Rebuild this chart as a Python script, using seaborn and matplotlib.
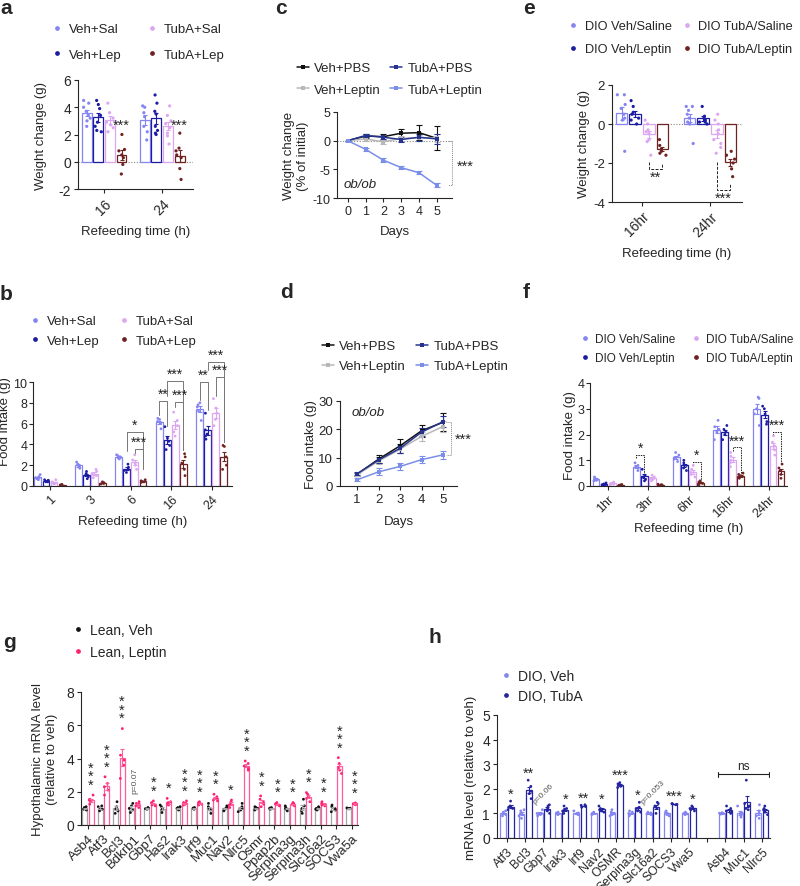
import numpy as np
import pandas as pd
import matplotlib.pyplot as plt
import seaborn as sns
from matplotlib.lines import Line2D

np.random.seed(7)

# ---------------- data ----------------
# a: weight change (g) after refeeding, individual mice
a_times = ["16", "24"]
grp4 = ["Veh+Sal", "Veh+Lep", "TubA+Sal", "TubA+Lep"]
a_16 = [[4.5, 4.3, 3.7, 3.4, 3.2, 3.0, 2.6, 4.0],
        [4.5, 4.2, 3.9, 3.4, 2.9, 2.6, 2.3, 2.2],
        [4.3, 3.6, 3.2, 2.9, 2.7, 2.5, 2.2],
        [2.0, 0.9, 0.8, 0.5, 0.3, -0.2, -0.9]]
a_24 = [[4.1, 4.0, 3.6, 3.3, 2.6, 2.2, 1.6],
        [4.9, 4.3, 3.7, 3.5, 2.6, 2.3, 2.1, 2.0],
        [4.1, 3.4, 3.0, 2.8, 2.5, 2.1, 1.9, 1.3],
        [2.1, 1.0, 0.8, 0.5, 0.3, -0.5, -1.3]]

# b: food intake (g)
b_times = ["1", "3", "6", "16", "24"]
b_1 = [[1.1, 0.9, 0.8, 0.7, 0.6], [0.6, 0.55, 0.5, 0.4, 0.4], [0.6, 0.4, 0.3, 0.2, 0.25], [0.15, 0.1, 0.1, 0.05, 0.08]]
b_3 = [[2.3, 2.1, 2.0, 1.8, 1.7], [1.4, 1.2, 1.0, 0.9, 0.7], [1.6, 1.4, 1.2, 1.0, 0.8], [0.4, 0.3, 0.3, 0.2, 0.25]]
b_6 = [[3.0, 2.9, 2.8, 2.7, 2.6], [2.1, 1.8, 1.6, 1.5, 1.3], [3.0, 2.5, 2.2, 2.0, 1.6], [0.6, 0.5, 0.45, 0.4, 0.35]]
b_16 = [[6.5, 6.4, 6.2, 6.0, 5.5], [5.7, 4.6, 4.3, 3.9, 3.5], [7.1, 6.3, 5.8, 5.2, 4.8], [3.1, 2.8, 2.2, 1.6, 1.0]]
b_24 = [[8.0, 7.8, 7.6, 7.2, 6.3], [7.0, 5.4, 5.0, 4.8, 4.5], [8.4, 7.5, 7.0, 6.4, 5.8], [3.9, 3.8, 2.8, 2.0, 1.6]]

# c: ob/ob weight change (% of initial), mean and sem
c_days = [0, 1, 2, 3, 4, 5]
grp_ob = ["Veh+PBS", "Veh+Leptin", "TubA+PBS", "TubA+Leptin"]
c_mean = [[0, 0.8, 0.7, 1.3, 1.4, 0.4],
          [0, 0.3, -0.2, 0.4, 0.5, 0.5],
          [0, 0.9, 0.6, 0.2, 0.6, 0.3],
          [0, -1.5, -3.4, -4.7, -5.6, -7.8]]
c_sem = [[0, 0.3, 0.5, 0.8, 1.3, 2.1],
         [0, 0.3, 0.4, 0.4, 0.5, 0.7],
         [0, 0.2, 0.3, 0.4, 0.6, 0.8],
         [0, 0.3, 0.3, 0.3, 0.3, 0.35]]

# d: ob/ob cumulative food intake (g)
d_days = [1, 2, 3, 4, 5]
d_mean = [[4.2, 9.5, 14.2, 19.5, 22.5],
          [4.0, 8.8, 13.0, 17.5, 21.0],
          [4.3, 9.2, 13.3, 19.0, 22.7],
          [2.2, 5.0, 6.9, 9.3, 11.0]]
d_sem = [[0.5, 1.5, 2.5, 2.2, 3.2],
         [0.5, 1.0, 1.5, 1.5, 2.0],
         [0.5, 1.2, 1.5, 1.5, 2.0],
         [0.5, 1.2, 1.2, 1.2, 1.3]]

# e: DIO weight change (g)
e_times = ["16hr", "24hr"]
grp_dio = ["DIO Veh/Saline", "DIO Veh/Leptin", "DIO TubA/Saline", "DIO TubA/Leptin"]
e_16 = [[1.5, 1.5, 1.0, 0.8, 0.5, 0.3, 0.2, -1.4],
        [1.2, 0.9, 0.6, 0.5, 0.3, 0.2, 0.0],
        [0.2, 0.0, -0.3, -0.4, -0.5, -0.8, -0.9, -1.6],
        [-0.8, -1.1, -1.3, -1.4, -1.5, -1.6]]
e_24 = [[0.9, 0.9, 0.7, 0.5, 0.3, 0.1, 0.0, -1.0],
        [0.9, 0.4, 0.3, 0.2, 0.1, 0.1, 0.0],
        [0.5, 0.2, 0.0, -0.3, -0.5, -0.8, -1.0, -1.2, -1.5],
        [-1.4, -1.6, -1.8, -2.0, -2.3, -2.7]]

# f: DIO food intake (g)
f_times = ["1hr", "3hr", "6hr", "16hr", "24hr"]
f_1 = [[0.35, 0.3, 0.27, 0.22, 0.2], [0.12, 0.08, 0.06, 0.05, 0.03], [0.15, 0.12, 0.1, 0.07, 0.05], [0.06, 0.04, 0.03, 0.02, 0.01]]
f_3 = [[0.9, 0.8, 0.75, 0.7, 0.6], [0.65, 0.4, 0.35, 0.25, 0.2], [0.42, 0.35, 0.3, 0.25, 0.2], [0.07, 0.05, 0.04, 0.03, 0.02]]
f_6 = [[1.3, 1.2, 1.1, 1.05, 0.95], [1.0, 0.9, 0.8, 0.7, 0.6], [0.8, 0.65, 0.55, 0.45, 0.35], [0.2, 0.15, 0.12, 0.1, 0.05]]
f_16 = [[2.55, 2.3, 2.2, 2.1, 1.8], [2.35, 2.2, 2.1, 2.0, 1.8], [1.3, 1.15, 1.0, 0.9, 0.75], [0.5, 0.45, 0.4, 0.35, 0.3]]
f_24 = [[3.45, 3.4, 3.0, 2.8, 2.35], [3.1, 3.0, 2.8, 2.5, 2.4], [1.95, 1.7, 1.55, 1.4, 1.2], [0.85, 0.7, 0.6, 0.45, 0.3]]

# g: hypothalamic mRNA (lean)
g_genes = ["Asb4", "Atf3", "Bcl3", "Bdkrb1", "Gbp7", "Has2", "Irak3", "Irf9", "Muc1", "Nav2",
           "Nlrc5", "Osmr", "Ppap2b", "Serpina3g", "Serpina3h", "Slc16a2", "SOCS3", "Vwa5a"]
grp_g = ["Lean, Veh", "Lean, Leptin"]
g_veh = [[0.9, 0.95, 1.0, 1.05, 1.1], [0.85, 0.95, 1.0, 1.1, 1.15], [0.7, 0.85, 0.95, 1.1, 1.4],
         [0.75, 0.9, 1.0, 1.15, 1.3], [0.95, 0.98, 1.0, 1.02, 1.05], [0.75, 0.9, 1.0, 1.1, 1.2],
         [0.9, 0.95, 1.0, 1.05, 1.1], [0.95, 0.98, 1.0, 1.02, 1.05], [0.7, 0.9, 1.0, 1.1, 1.3],
         [0.85, 0.95, 1.0, 1.05, 1.15], [0.8, 0.9, 1.0, 1.1, 1.3], [0.9, 0.95, 1.0, 1.05, 1.1],
         [0.95, 0.98, 1.0, 1.02, 1.05], [0.85, 0.95, 1.0, 1.05, 1.15], [0.7, 0.85, 1.0, 1.15, 1.55],
         [0.9, 0.95, 1.0, 1.05, 1.1], [0.8, 0.9, 1.0, 1.1, 1.2], [0.97, 0.99, 1.0, 1.01, 1.03]]
g_lep = [[1.25, 1.4, 1.5, 1.55, 1.8], [1.8, 2.1, 2.3, 2.5, 2.9], [2.8, 3.6, 3.9, 4.2, 5.8],
         [1.05, 1.15, 1.25, 1.3, 1.4], [1.15, 1.2, 1.3, 1.35, 1.45], [1.2, 1.25, 1.35, 1.4, 1.6],
         [1.2, 1.25, 1.3, 1.35, 1.45], [1.2, 1.25, 1.3, 1.35, 1.4], [1.45, 1.5, 1.6, 1.7, 1.85],
         [1.05, 1.2, 1.3, 1.4, 1.5], [3.3, 3.4, 3.55, 3.7, 3.85], [1.1, 1.25, 1.4, 1.55, 1.75],
         [1.15, 1.2, 1.25, 1.3, 1.35], [1.15, 1.2, 1.25, 1.3, 1.35], [1.4, 1.6, 1.7, 1.85, 1.95],
         [1.15, 1.2, 1.25, 1.3, 1.4], [3.1, 3.3, 3.45, 3.7, 4.05], [1.22, 1.25, 1.28, 1.3, 1.33]]
g_sig = ["***", "***", "***", "p=0.07", "**", "*", "***", "***", "**", "*",
         "***", "**", "**", "**", "**", "**", "***", "***"]

# h: mRNA (DIO), "" is the spacer between the two gene sets
h_genes = ["Atf3", "Bcl3", "Gbp7", "Irak3", "Irf9", "Nav2", "OSMR", "Serpina3g", "Slc16a2",
           "SOCS3", "Vwa5", "", "Asb4", "Muc1", "Nlrc5"]
grp_h = ["DIO, Veh", "DIO, TubA"]
h_veh = [[0.9, 0.95, 1.0, 1.05, 1.1], [0.8, 0.9, 1.0, 1.1, 1.15], [0.9, 0.95, 1.0, 1.0, 1.15],
         [0.95, 0.98, 1.0, 1.02, 1.05], [0.95, 0.98, 1.0, 1.02, 1.1], [0.95, 0.98, 1.0, 1.02, 1.05],
         [0.9, 0.95, 1.0, 1.05, 1.15], [0.9, 0.95, 1.0, 1.05, 1.1], [0.95, 0.98, 1.0, 1.02, 1.05],
         [0.9, 0.95, 1.0, 1.05, 1.1], [0.95, 0.98, 1.0, 1.02, 1.05], [],
         [0.97, 0.99, 1.0, 1.01, 1.03], [0.85, 0.95, 1.0, 1.05, 1.3], [0.8, 0.9, 1.0, 1.1, 1.35]]
h_tub = [[1.15, 1.2, 1.25, 1.3, 1.5], [1.6, 1.8, 1.9, 2.1, 2.35], [1.0, 1.1, 1.2, 1.3, 1.35],
         [1.0, 1.1, 1.15, 1.2, 1.3], [1.25, 1.28, 1.3, 1.33, 1.35], [1.05, 1.1, 1.15, 1.2, 1.3],
         [2.05, 2.1, 2.15, 2.2, 2.25], [1.05, 1.1, 1.2, 1.25, 1.45], [1.0, 1.2, 1.3, 1.4, 1.45],
         [1.35, 1.37, 1.38, 1.39, 1.4], [1.1, 1.15, 1.2, 1.25, 1.3], [],
         [1.0, 1.05, 1.1, 1.2, 1.3], [1.15, 1.2, 1.3, 1.4, 2.35], [0.95, 1.05, 1.15, 1.2, 1.3]]
h_sig = ["*", "**", "p=0.06", "*", "**", "*", "***", "*", "p=0.053", "***", "*", "", "", "", ""]

# colours
pal4 = ["#8585f2", "#1c1ca3", "#dda6f0", "#6e2222"]
pal_ob = ["#111111", "#b8b8b8", "#26348f", "#7b8ee8"]
pal_g_bar = ["#a5a5a5", "#ff5c9d"]
pal_g_dot = ["#111111", "#ff1f70"]
pal_h = ["#8585f2", "#2525a0"]

# ---------------- style ----------------
sns.set_theme(style="ticks")
plt.rcParams["font.family"] = ["Liberation Sans", "DejaVu Sans"]
plt.rcParams.update({"font.size": 9, "axes.linewidth": 0.8, "xtick.major.width": 0.8,
                     "ytick.major.width": 0.8, "xtick.major.size": 3, "ytick.major.size": 3,
                     "xtick.major.pad": 2, "ytick.major.pad": 2,
                     "xtick.labelsize": 10, "ytick.labelsize": 10, "axes.labelsize": 9.5,
                     "axes.unicode_minus": False})

W, H = 800, 887
fig = plt.figure(figsize=(8, 8.87), dpi=100)


def add_ax(x0, x1, y_top, y_bot):
    return fig.add_axes([x0 / W, 1 - y_bot / H, (x1 - x0) / W, (y_bot - y_top) / H])


def long_df(times, groups, blocks):
    rows = []
    for t, block in zip(times, blocks):
        for g, vals in zip(groups, block):
            for v in vals:
                rows.append((t, g, v))
    return pd.DataFrame(rows, columns=["t", "g", "v"])


def xpos(i, j, n, width=0.8):
    return i + (j - (n - 1) / 2) * width / n


def bar_panel(ax, df, order, hue_order, pal, dot_pal, jit=0.25, dsize=2.3, gap=0.15):
    sns.barplot(data=df, x="t", y="v", hue="g", order=order, hue_order=hue_order,
                palette=pal, fill=False, errorbar=None, gap=gap, linewidth=0.9,
                legend=False, ax=ax)
    sns.stripplot(data=df, x="t", y="v", hue="g", order=order, hue_order=hue_order,
                  palette=dot_pal, dodge=True, jitter=jit, size=dsize, linewidth=0,
                  legend=False, ax=ax, zorder=3)
    st = df.groupby(["t", "g"])["v"].agg(["mean", "sem"])
    n = len(hue_order)
    for i, t in enumerate(order):
        for j, g in enumerate(hue_order):
            if (t, g) not in st.index:
                continue
            m, s = st.loc[(t, g)]
            ax.errorbar(xpos(i, j, n), m, yerr=s, color=pal[j], capsize=1.6,
                        elinewidth=0.8, capthick=0.8, zorder=4)


def line_panel(ax, days, means, sems, marker_size=3.5):
    rows = []
    for g, ms in zip(grp_ob, means):
        for d, m in zip(days, ms):
            rows.append((d, g, m))
    df = pd.DataFrame(rows, columns=["day", "g", "v"])
    sns.lineplot(data=df, x="day", y="v", hue="g", hue_order=grp_ob, palette=pal_ob,
                 marker="s", markersize=marker_size, markeredgewidth=0, linewidth=1.1,
                 errorbar=None, legend=False, ax=ax)
    for g, c, ms, ss in zip(grp_ob, pal_ob, means, sems):
        ax.errorbar(days, ms, yerr=ss, fmt="none", ecolor=c, elinewidth=0.8,
                    capsize=2, capthick=0.8, zorder=1)


def dot_legend(x, y, labels, colors, ncol, cs, fs=9.5, ls=0.75):
    hs = [Line2D([], [], ls="", marker="o", markersize=2.4, color=c) for c in colors]
    fig.legend(hs, labels, ncol=ncol, loc="upper left", bbox_to_anchor=(x / W, 1 - y / H),
               frameon=False, fontsize=fs, handlelength=0.8, handletextpad=0.5,
               columnspacing=cs, labelspacing=ls, borderpad=0, borderaxespad=0)


def line_legend(x, y, cs, ls=0.6):
    hs = [Line2D([], [], color=c, marker="s", markersize=3.5, markeredgewidth=0, lw=1.1)
          for c in pal_ob]
    fig.legend(hs, grp_ob, ncol=2, loc="upper left", bbox_to_anchor=(x / W, 1 - y / H),
               frameon=False, fontsize=9.5, handlelength=0.9, handletextpad=0.4,
               columnspacing=cs, labelspacing=ls, borderpad=0, borderaxespad=0)


def rot_labels(ax, labels, size=10):
    ax.set_xticks(range(len(labels)))
    ax.set_xticklabels(labels, rotation=45, ha="right", rotation_mode="anchor", fontsize=size)


def bracket(ax, x1, x2, y, y1, y2, txt, color="#777777", ls="-", fs=10, lw=0.7):
    ax.plot([x1, x1, x2, x2], [y1, y, y, y2], color=color, ls=ls, lw=lw, clip_on=False)
    ax.text((x1 + x2) / 2, y, txt, ha="center", va="bottom", fontsize=fs, color="#222222")


def zero_line(ax):
    ax.axhline(0, color="#888888", ls=(0, (1, 1.5)), lw=0.8, zorder=0)


def letter(x, y, s):
    fig.text(x / W, 1 - y / H, s, fontsize=15, fontweight="bold", va="center", ha="left")


# ---------------- panel a ----------------
ax = add_ax(78, 193, 81, 190)
bar_panel(ax, long_df(a_times, grp4, [a_16, a_24]), a_times, grp4, pal4, pal4)
zero_line(ax)
ax.set_ylim(-2, 6)
ax.set_xlim(-0.45, 1.53)
ax.set_yticks([-2, 0, 2, 4, 6])
rot_labels(ax, a_times)
ax.set_ylabel("Weight change (g)", labelpad=8)
ax.set_xlabel("Refeeding time (h)", labelpad=6)
for i in range(2):
    ax.text(xpos(i, 3, 4), 2.2, "***", ha="center", va="bottom", fontsize=10.5)
sns.despine(ax=ax)
dot_legend(52, 24, grp4, pal4, 2, 1.9, ls=1.0)
letter(0, 9, "a")

# ---------------- panel b ----------------
ax = add_ax(33, 232, 357, 487)
bar_panel(ax, long_df(b_times, grp4, [b_1, b_3, b_6, b_16, b_24]), b_times, grp4, pal4, pal4,
          dsize=2.0)
ax.set_ylim(0, 12.5)
ax.set_xlim(-0.42, 4.5)
ax.set_yticks(range(0, 11, 2))
ax.spines["left"].set_bounds(0, 10)
ax.tick_params(axis="y", pad=1, labelsize=9)
rot_labels(ax, b_times, size=9)
ax.set_ylabel("Food intake (g)", labelpad=2)
ax.set_xlabel("Refeeding time (h)", labelpad=3)
bracket(ax, xpos(2, 1, 4), xpos(2, 3, 4), 5.2, 3.4, 1.6, "*")
bracket(ax, xpos(2, 2, 4), xpos(2, 3, 4), 3.6, 3.1, 1.6, "***")
bracket(ax, xpos(3, 0, 4), xpos(3, 1, 4), 8.2, 6.8, 5.8, "**")
bracket(ax, xpos(3, 1, 4), xpos(3, 3, 4), 10.1, 8.7, 3.5, "***")
bracket(ax, xpos(3, 2, 4), xpos(3, 3, 4), 8.1, 7.6, 3.5, "***")
bracket(ax, xpos(4, 0, 4), xpos(4, 1, 4), 10.0, 8.3, 7.3, "**")
bracket(ax, xpos(4, 1, 4), xpos(4, 3, 4), 11.9, 11.2, 4.2, "***")
bracket(ax, xpos(4, 2, 4), xpos(4, 3, 4), 10.5, 8.7, 4.2, "***")
sns.despine(ax=ax)
dot_legend(30, 316, grp4, pal4, 2, 1.4, ls=0.55)
letter(0, 295, "b")

# ---------------- panel c ----------------
ax = add_ax(337, 452, 113, 199)
line_panel(ax, c_days, c_mean, c_sem)
ax.plot([-0.6, 5.85], [0, 0], color="#888888", ls=(0, (1, 1.5)), lw=0.8, zorder=0, clip_on=False)
ax.set_xlim(-0.6, 5.85)
ax.set_ylim(-10, 5)
ax.set_yticks([-10, -5, 0, 5])
ax.set_xticks(c_days)
ax.tick_params(labelsize=9)
ax.set_xlabel("Days", labelpad=6)
ax.set_ylabel("Weight change\n(% of initial)", labelpad=2)
ax.text(-0.25, -7.6, "ob/ob", fontstyle="italic", fontsize=9.5, va="center")
ax.plot([5.65, 5.85, 5.85, 5.65], [0, 0, -7.8, -7.8], color="#888888", lw=0.7,
        ls=(0, (1, 1)), clip_on=False)
ax.text(6.1, -4.4, "***", fontsize=10.5, va="center", ha="left")
sns.despine(ax=ax)
line_legend(297, 63, 0.7, ls=0.7)
letter(275, 9, "c")

# ---------------- panel d ----------------
ax = add_ax(340, 457, 402, 487)
line_panel(ax, d_days, d_mean, d_sem)
ax.set_xlim(0.2, 5.65)
ax.set_ylim(0, 30)
ax.set_yticks([0, 10, 20, 30])
ax.set_xticks(d_days)
ax.tick_params(labelsize=9.5)
ax.set_xlabel("Days", labelpad=7)
ax.set_ylabel("Food intake (g)", labelpad=1)
ax.text(0.75, 26, "ob/ob", fontstyle="italic", fontsize=9.5, va="center")
ax.plot([5.15, 5.35, 5.35, 5.15], [22.7, 22.7, 11.0, 11.0], color="#888888", lw=0.7,
        ls=(0, (1, 1)), clip_on=False)
ax.text(5.55, 16.6, "***", fontsize=10.5, va="center", ha="left")
sns.despine(ax=ax)
line_legend(322, 341, 0.8)
letter(280, 293, "d")

# ---------------- panel e ----------------
ax = add_ax(612, 742, 86, 203)
bar_panel(ax, long_df(e_times, grp_dio, [e_16, e_24]), e_times, grp_dio, pal4, pal4)
zero_line(ax)
ax.set_ylim(-4, 2)
ax.set_xlim(-0.44, 1.47)
ax.set_yticks([-4, -2, 0, 2])
ax.tick_params(axis="y", labelsize=9.5)
rot_labels(ax, e_times)
ax.set_ylabel("Weight change (g)", labelpad=2)
ax.set_xlabel("Refeeding time (h)", labelpad=6)
for i, (ytop, y2, s) in enumerate([(-2.3, -2.0, "**"), (-3.4, -3.1, "***")]):
    x1, x2 = xpos(i, 2, 4), xpos(i, 3, 4)
    ax.plot([x1, x1, x2, x2], [-1.95, ytop, ytop, y2], color="#222222", lw=0.7,
            ls=(0, (3, 1.5)))
    ax.text((x1 + x2) / 2, ytop - 0.05, s, ha="center", va="top", fontsize=10.5)
sns.despine(ax=ax)
dot_legend(568, 21, grp_dio, pal4, 2, 0.8, fs=9.2, ls=0.9)
letter(523, 9, "e")

# ---------------- panel f ----------------
ax = add_ax(590, 787, 384, 487)
bar_panel(ax, long_df(f_times, grp_dio, [f_1, f_3, f_6, f_16, f_24]), f_times, grp_dio,
          pal4, pal4, dsize=2.0)
ax.set_ylim(0, 4)
ax.set_xlim(-0.45, 4.45)
ax.set_yticks([0, 1, 2, 3, 4])
ax.tick_params(axis="y", labelsize=9, pad=1)
rot_labels(ax, f_times, size=9)
ax.set_ylabel("Food intake (g)", labelpad=1)
ax.set_xlabel("Refeeding time (h)", labelpad=2)
for i, j1, j2, y, y1, y2, s in [(1, 0, 1, 1.2, 1.07, 0.45, "*"), (2, 2, 3, 0.93, 0.82, 0.2, "*"),
                                 (3, 2, 3, 1.5, 1.37, 0.5, "***"), (4, 2, 3, 2.1, 1.97, 0.85, "***")]:
    bracket(ax, xpos(i, j1, 4), xpos(i, j2, 4), y, y1, y2, s, color="#222222",
            ls=(0, (1.5, 1)), fs=10)
sns.despine(ax=ax)
dot_legend(580, 334, grp_dio, pal4, 2, 1.3, fs=8.5, ls=0.6)
letter(523, 293, "f")

# ---------------- panel g ----------------
ax = add_ax(81, 358, 693, 826)
g_df = long_df(g_genes, grp_g, [[v, l] for v, l in zip(g_veh, g_lep)])
bar_panel(ax, g_df, g_genes, grp_g, pal_g_bar, pal_g_dot, jit=0.3, dsize=2.0, gap=0.2)
ax.set_ylim(0, 8)
ax.set_xlim(-0.45, 17.4)
ax.set_yticks([0, 2, 4, 6, 8])
rot_labels(ax, g_genes, size=9.5)
ax.set_xlabel("")
ax.set_ylabel("Hypothalamic mRNA level\n(relative to veh)", labelpad=6)
for i, (s, pts) in enumerate(zip(g_sig, g_lep)):
    if s.startswith("p"):
        ax.text(i, max(pts) + 0.5, s, rotation=90, fontsize=6, color="#555555",
                ha="center", va="bottom")
    else:
        ax.text(xpos(i, 1, 2), max(pts) + 0.2, "\n".join(s), ha="center", va="bottom",
                fontsize=10.5, linespacing=0.5)
sns.despine(ax=ax)
dot_legend(72, 624, grp_g, pal_g_dot, 1, 1.0, fs=10, ls=0.55)
letter(3, 642, "g")

# ---------------- panel h ----------------
ax = add_ax(497, 770, 716, 839)
h_df = long_df(h_genes, grp_h, [[v, t] for v, t in zip(h_veh, h_tub)])
bar_panel(ax, h_df, h_genes, grp_h, pal_h, pal_h, jit=0.3, dsize=2.0, gap=0.2)
ax.set_ylim(0, 5)
ax.set_xlim(-0.55, 14.45)
ax.set_yticks(range(6))
rot_labels(ax, h_genes, size=8.8)
ax.set_xlabel("")
ax.set_ylabel("mRNA level (relative to veh)", labelpad=4)
for i, (s, pts) in enumerate(zip(h_sig, h_tub)):
    if not s:
        continue
    if s.startswith("p"):
        ax.text(i, max(pts) + 0.45, s, rotation=45, fontsize=6, color="#555555",
                ha="center", va="center")
    else:
        ax.text(xpos(i, 1, 2), max(pts) + 0.02, s, ha="center", va="bottom", fontsize=10.5)
ax.plot([11.6, 14.4], [2.6, 2.6], color="#222222", lw=0.8)
for xe in (11.6, 14.4):
    ax.plot([xe, xe], [2.5, 2.7], color="#222222", lw=0.8)
ax.text(13, 2.7, "ns", ha="center", va="bottom", fontsize=8.5)
sns.despine(ax=ax)
dot_legend(500, 670, grp_h, pal_h, 1, 1.0, fs=10, ls=0.4)
letter(428, 638, "h")

fig.savefig("out.png", dpi=100)
